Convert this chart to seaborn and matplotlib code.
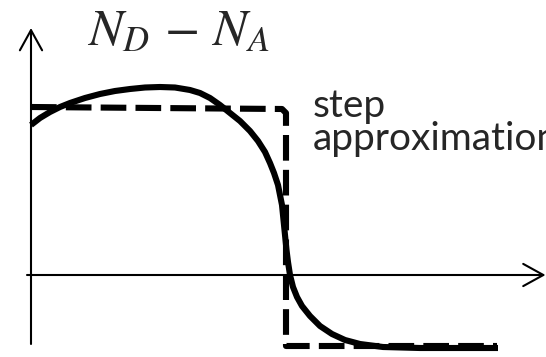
import matplotlib
matplotlib.use("Agg")
import matplotlib.pyplot as plt
import seaborn as sns
import pandas as pd

# Net doping profile N_D - N_A versus depth (arbitrary units)
depth = [0, 9, 19, 29, 39, 54, 69, 84, 99, 114, 129, 144, 159, 169, 179, 189,
         199, 209, 219, 227, 234, 239, 243, 247, 249, 251, 252.5, 254, 255.5,
         257, 259, 262, 266, 271, 279, 289, 301, 314, 329, 352, 389, 429, 467]
doping = [150, 157, 163, 168, 172, 177, 181, 184, 186, 187.5, 188, 187.5, 185,
          182, 177, 170, 162, 154, 144, 134, 123, 112, 102, 90, 80, 70, 55, 40,
          25, 13, 0, -12, -22, -31, -41, -51, -59, -65, -69, -72, -73, -73, -73]

# Abrupt (step) approximation of the same profile
step_depth = [0, 251, 255, 255, 466]
step_doping = [168, 166, 162, -71, -71]

sns.set_theme(style="white")
plt.rcParams["mathtext.fontset"] = "stix"

fig = plt.figure(figsize=(5.46, 3.57), dpi=100)
ax = fig.add_axes([0, 0, 1, 1])
ax.set_xlim(-31, 515)
ax.set_ylim(-82, 275)
ax.axis("off")

profile = pd.DataFrame({"depth": depth, "doping": doping})
step = pd.DataFrame({"depth": step_depth, "doping": step_doping})

lw = 4.4
sns.lineplot(data=step, x="depth", y="doping", sort=False, estimator=None,
             ax=ax, color="black", lw=lw, linestyle=(0, (4.2, 1.5)),
             solid_joinstyle="round", dash_joinstyle="round",
             dash_capstyle="butt", zorder=3)
sns.lineplot(data=profile, x="depth", y="doping", sort=False, estimator=None,
             ax=ax, color="black", lw=lw, solid_joinstyle="round",
             solid_capstyle="butt", zorder=4)

# Coordinate axes with open arrowheads
arrow = dict(arrowstyle="->,head_length=1.45,head_width=0.8",
             lw=1.5, color="black", shrinkA=0, shrinkB=0, mutation_scale=10)
ax.annotate("", xy=(0, 247), xytext=(0, -69), arrowprops=arrow, zorder=2)
ax.annotate("", xy=(514.5, 0), xytext=(-4, 0), arrowprops=arrow, zorder=2)

ax.text(56, 230, r"$N_D\,-\,N_A$", fontsize=37, va="baseline", ha="left")
ax.text(282, 158, "step", fontsize=28, family="Lato", va="baseline", ha="left")
ax.text(282, 125, "approximation", fontsize=28, family="Lato",
        va="baseline", ha="left")

fig.savefig("out.png", dpi=100)
